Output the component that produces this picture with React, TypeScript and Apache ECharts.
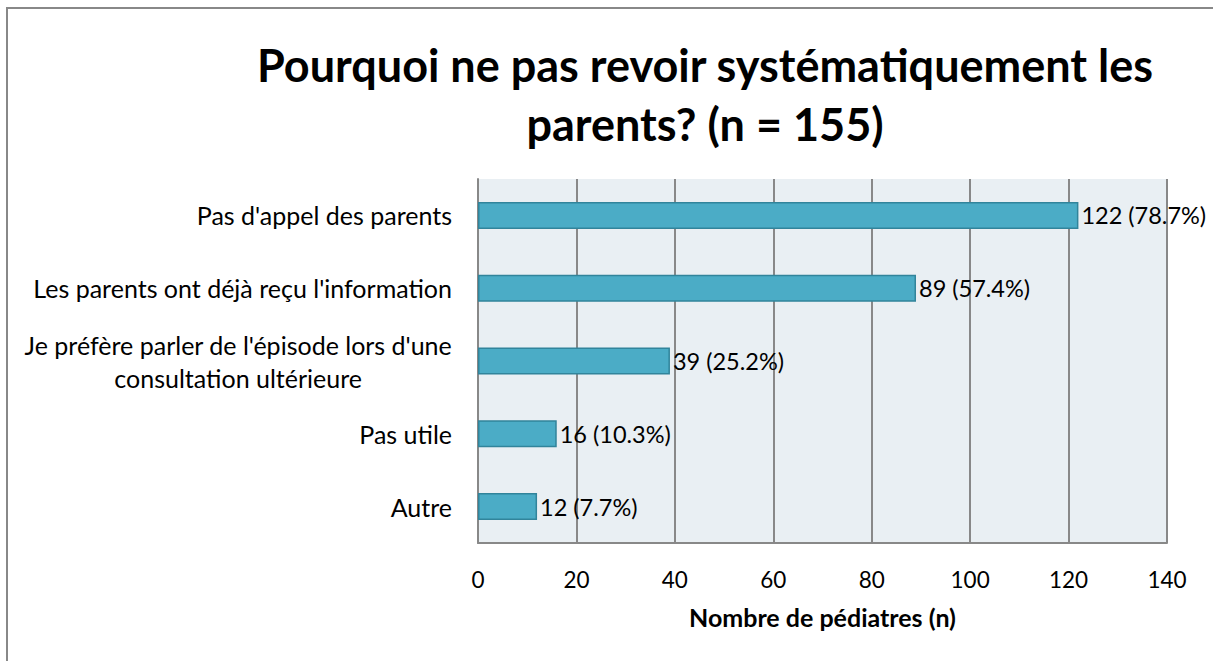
import React, { useEffect, useRef } from "react";
import * as echarts from "echarts";

const categories = [
  "Pas d'appel des parents",
  "Les parents ont déjà reçu l'information",
  "Je préfère parler de l'épisode lors d'une\nconsultation ultérieure",
  "Pas utile",
  "Autre",
];
const counts = [122, 89, 39, 16, 12];
const percents = ["78.7", "57.4", "25.2", "10.3", "7.7"];
const xTicks = { min: 0, max: 140, interval: 20 };
const titleText = "Pourquoi ne pas revoir systématiquement les\nparents? (n = 155)";
const xAxisName = "Nombre de pédiatres (n)";

const FONT = "Lato, 'Open Sans', sans-serif";

export default function App() {
  const ref = useRef<HTMLDivElement>(null);
  useEffect(() => {
    if (!ref.current) return;
    const chart = echarts.init(ref.current, undefined, { renderer: "svg" });
    chart.setOption({
      animation: false,
      backgroundColor: "#ffffff",
      textStyle: { fontFamily: FONT },
      title: {
        text: titleText,
        left: 700,
        top: 30,
        textAlign: "center",
        textStyle: {
          fontFamily: FONT,
          fontSize: 45,
          fontWeight: "bold",
          color: "#000",
          lineHeight: 59,
          align: "center",
        },
      },
      graphic: [
        {
          type: "line",
          shape: { x1: 7, y1: 8, x2: 7, y2: 661 },
          style: { stroke: "#888888", lineWidth: 2 },
          silent: true,
        },
        {
          type: "line",
          shape: { x1: 6, y1: 8, x2: 1213, y2: 8 },
          style: { stroke: "#888888", lineWidth: 2 },
          silent: true,
        },
      ],
      grid: {
        left: 478,
        right: 46,
        top: 179,
        bottom: 118,
        show: true,
        backgroundColor: "#E9EFF3",
        borderWidth: 0,
      },
      xAxis: {
        type: "value",
        min: xTicks.min,
        max: xTicks.max,
        interval: xTicks.interval,
        name: xAxisName,
        nameLocation: "middle",
        nameGap: 61,
        nameTextStyle: { fontFamily: FONT, fontSize: 25, fontWeight: "bold", color: "#000" },
        axisLine: { show: true, lineStyle: { color: "#888888", width: 2 } },
        axisTick: { show: false },
        axisLabel: { fontFamily: FONT, fontSize: 22.5, color: "#000", margin: 25 },
        splitLine: { show: true, lineStyle: { color: "#888888", width: 2 } },
      },
      yAxis: {
        type: "category",
        data: categories,
        inverse: true,
        axisLine: { show: true, lineStyle: { color: "#888888", width: 2 } },
        axisTick: { show: false },
        axisLabel: {
          fontFamily: FONT,
          fontSize: 25,
          color: "#000",
          margin: 26,
          lineHeight: 33,
          align: "right",
          formatter: (v: string) =>
            v.indexOf("\n") >= 0
              ? v
                  .split("\n")
                  .map((s) => `{c|${s}}`)
                  .join("\n")
              : v,
          rich: {
            c: {
              align: "center",
              fontFamily: FONT,
              fontSize: 25,
              lineHeight: 33,
              color: "#000",
            },
          },
        },
      },
      series: [
        {
          type: "bar",
          data: counts,
          barWidth: 27,
          itemStyle: { color: "#4BACC6", borderColor: "#31849B", borderWidth: 1.5 },
          label: {
            show: true,
            position: "right",
            distance: 3,
            fontFamily: FONT,
            fontSize: 23.5,
            color: "#000",
            formatter: (p: any) => `${counts[p.dataIndex]} (${percents[p.dataIndex]}%)`,
          },
        },
      ],
    });
    return () => chart.dispose();
  }, []);
  return (
    <div
      ref={ref}
      style={{ position: "absolute", left: 0, top: 0, width: 1213, height: 661, overflow: "hidden" }}
    />
  );
}
